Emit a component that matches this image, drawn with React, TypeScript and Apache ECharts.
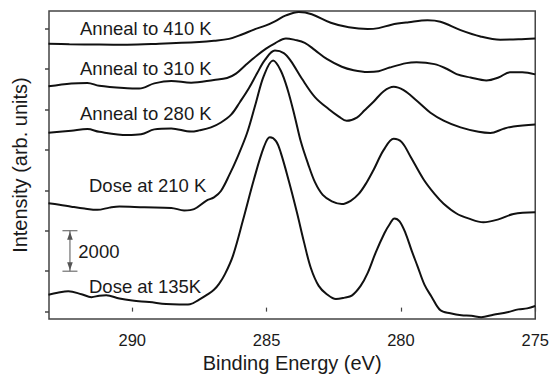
import React, { useEffect, useRef } from "react";
import * as echarts from "echarts";

const seriesNames = ["Anneal to 410 K", "Anneal to 310 K", "Anneal to 280 K", "Dose at 210 K", "Dose at 135K"];

const anneal410Energy = [293.12, 292.34, 291.23, 290.19, 289.0, 287.51, 286.96, 286.4, 285.92, 285.47, 285.02, 284.69, 284.28, 283.8, 283.32, 282.61, 281.94, 281.24, 280.83, 280.35, 279.71, 279.01, 278.53, 277.78, 277.04, 276.3, 275.63, 275.0];
const anneal410Intensity = [13249, 13225, 13210, 13201, 13249, 13336, 13394, 13491, 13709, 13951, 14159, 14362, 14652, 14822, 14711, 14290, 14062, 13975, 14023, 14193, 14314, 14411, 14338, 13927, 13612, 13452, 13467, 13506];

const anneal310Energy = [293.12, 292.27, 291.67, 291.23, 290.19, 289.74, 289.18, 288.55, 287.81, 286.96, 286.47, 286.14, 285.77, 285.36, 285.02, 284.69, 284.28, 283.95, 283.58, 283.2, 282.76, 282.2, 281.76, 281.24, 280.83, 280.42, 279.79, 279.42, 278.75, 278.3, 277.93, 277.41, 276.82, 276.37, 275.93, 275.48, 275.0];
const anneal310Intensity = [11144, 11289, 11314, 11168, 11047, 11033, 11289, 11410, 11323, 11459, 11556, 11773, 12209, 12668, 13007, 13273, 13515, 13443, 13298, 12935, 12499, 12112, 11943, 11856, 11894, 12073, 12291, 12330, 12243, 12015, 11749, 11580, 11435, 11580, 11846, 11846, 11735];

const anneal280Energy = [293.12, 292.27, 291.67, 291.23, 290.19, 289.67, 289.18, 288.55, 287.81, 287.51, 287.07, 286.7, 286.32, 285.99, 285.66, 285.36, 285.06, 284.69, 284.36, 284.1, 283.69, 283.2, 282.68, 282.31, 282.02, 281.64, 281.35, 281.01, 280.64, 280.27, 279.9, 279.42, 278.9, 278.41, 277.78, 277.11, 276.67, 276.19, 275.81, 275.0];
const anneal280Intensity = [8846, 8952, 9030, 8894, 8739, 8773, 9015, 9063, 8904, 8966, 9112, 9354, 9741, 10370, 11047, 11773, 12450, 12911, 12789, 12402, 11531, 10612, 10007, 9644, 9436, 9596, 9959, 10394, 10902, 11120, 10951, 10442, 9838, 9451, 9112, 8894, 8836, 9039, 9160, 9257];

const dose210Energy = [293.12, 292.71, 292.27, 291.78, 291.3, 290.85, 290.48, 289.55, 288.55, 288.07, 287.7, 287.25, 286.96, 286.7, 286.36, 286.14, 285.73, 285.4, 285.1, 284.76, 284.47, 284.21, 283.95, 283.72, 283.46, 283.2, 282.91, 282.57, 282.2, 281.87, 281.57, 281.27, 281.01, 280.64, 280.27, 279.97, 279.64, 279.16, 278.75, 278.41, 277.93, 277.49, 276.93, 276.37, 275.81, 275.0];
const dose210Intensity = [5362, 5289, 5192, 5095, 5033, 5144, 5202, 5158, 5129, 5008, 5071, 5483, 5652, 5966, 6838, 7467, 8822, 10322, 11677, 12417, 11918, 10951, 9644, 8386, 7321, 6402, 5773, 5458, 5323, 5483, 5821, 6402, 7031, 7999, 8555, 8386, 7660, 6547, 5821, 5337, 4854, 4612, 4418, 4563, 4829, 4916];

const dose135Energy = [293.12, 292.78, 292.38, 291.89, 291.52, 291.23, 290.97, 290.48, 290.0, 289.37, 288.74, 288.25, 287.85, 287.51, 287.21, 286.96, 286.77, 286.55, 286.25, 285.88, 285.47, 285.1, 284.88, 284.65, 284.47, 284.17, 283.87, 283.61, 283.35, 283.06, 282.76, 282.42, 282.09, 281.83, 281.5, 281.24, 280.94, 280.61, 280.42, 280.24, 280.05, 279.83, 279.6, 279.38, 279.12, 278.86, 278.53, 278.16, 277.75, 277.38, 277.01, 276.56, 276.04, 275.63, 275.3, 275.0];
const dose135Intensity = [837, 934, 1007, 861, 716, 789, 813, 644, 547, 474, 377, 353, 368, 595, 837, 1079, 1369, 1853, 2773, 4515, 6547, 8144, 8628, 8434, 7854, 6450, 4902, 3450, 2144, 1273, 861, 619, 692, 789, 1273, 1902, 2918, 3886, 4321, 4612, 4466, 3886, 3015, 2240, 1321, 740, 63, -82, -179, -203, -276, -155, -34, 111, 160, 281];

const xTicks = [275, 280, 285, 290];
const yTicks = [0, 2000, 4000, 6000, 8000, 10000, 12000, 14000];
const scaleBarRange = [2000, 4000];
const scaleBarLabel = "2000";
const scaleBarEnergy = 292.32;

const FONT = "'Liberation Sans', Arial, Helvetica, sans-serif";

const curves = [
  [anneal410Energy, anneal410Intensity],
  [anneal310Energy, anneal310Intensity],
  [anneal280Energy, anneal280Intensity],
  [dose210Energy, dose210Intensity],
  [dose135Energy, dose135Intensity],
];

const labelPos = [
  [80, 28],
  [80, 68.6],
  [80, 113.6],
  [89, 185.3],
  [89, 286.9],
];

export default function App() {
  const ref = useRef<HTMLDivElement>(null);
  useEffect(() => {
    if (!ref.current) return;
    const chart = echarts.init(ref.current, null, { renderer: "svg" });
    const series = curves.map(([xs, ys], i) => ({
      name: seriesNames[i],
      type: "line",
      data: xs.map((x, j) => [x, ys[j]]),
      showSymbol: false,
      smooth: 0.35,
      lineStyle: { color: "#111", width: 2 },
      silent: true,
    }));
    chart.setOption({
      animation: false,
      grid: { left: 49, top: 11, width: 488, height: 315, show: true, borderColor: "#444", borderWidth: 1.5, backgroundColor: "transparent" },
      xAxis: {
        type: "value",
        min: 275,
        max: 293.1,
        inverse: true,
        interval: 5,
        name: "Binding Energy (eV)",
        nameLocation: "middle",
        nameGap: 30,
        nameTextStyle: { fontFamily: FONT, fontSize: 20, color: "#1a1a1a" },
        axisLine: { show: false },
        axisTick: { show: true, inside: true, length: 4, lineStyle: { color: "#444", width: 1.2 }, customValues: xTicks },
        axisLabel: { fontFamily: FONT, fontSize: 16.5, color: "#1a1a1a", margin: 12, customValues: xTicks },
        splitLine: { show: false },
      },
      yAxis: {
        type: "value",
        min: -370,
        max: 14870,
        name: "Intensity (arb. units)",
        nameLocation: "middle",
        nameGap: 19,
        nameTextStyle: { fontFamily: FONT, fontSize: 20, color: "#1a1a1a" },
        axisLine: { show: false },
        axisTick: { show: true, inside: false, length: 4, lineStyle: { color: "#444", width: 1.5 }, customValues: yTicks },
        axisLabel: { show: false },
        splitLine: { show: false },
      },
      series,
    });
    const top = chart.convertToPixel({ gridIndex: 0 }, [scaleBarEnergy, scaleBarRange[1]]) as number[];
    const bot = chart.convertToPixel({ gridIndex: 0 }, [scaleBarEnergy, scaleBarRange[0]]) as number[];
    const cx = top[0];
    const c = "#555";
    const graphic: any[] = [
      { type: "line", shape: { x1: cx, y1: top[1], x2: cx, y2: bot[1] }, style: { stroke: c, lineWidth: 1 } },
      { type: "line", shape: { x1: cx - 7.5, y1: top[1], x2: cx + 7.5, y2: top[1] }, style: { stroke: c, lineWidth: 1 } },
      { type: "line", shape: { x1: cx - 7.5, y1: bot[1], x2: cx + 7.5, y2: bot[1] }, style: { stroke: c, lineWidth: 1 } },
      { type: "polygon", shape: { points: [[cx, top[1] + 1], [cx - 2.8, top[1] + 9], [cx + 2.8, top[1] + 9]] }, style: { fill: c } },
      { type: "polygon", shape: { points: [[cx, bot[1] - 1], [cx - 2.8, bot[1] - 9], [cx + 2.8, bot[1] - 9]] }, style: { fill: c } },
      {
        type: "text",
        x: 78.3,
        y: (top[1] + bot[1]) / 2 + 0.5,
        style: { text: scaleBarLabel, font: `18.5px ${FONT}`, fill: "#1a1a1a", verticalAlign: "middle", align: "left" },
      },
    ];
    seriesNames.forEach((n, i) => {
      graphic.push({
        type: "text",
        x: labelPos[i][0],
        y: labelPos[i][1],
        style: { text: n, font: `18.5px ${FONT}`, fill: "#1a1a1a", verticalAlign: "middle", align: "left" },
      });
    });
    chart.setOption({ graphic });
    return () => chart.dispose();
  }, []);
  return <div ref={ref} style={{ width: 552, height: 378, position: "absolute", left: 0, top: 0 }} />;
}
